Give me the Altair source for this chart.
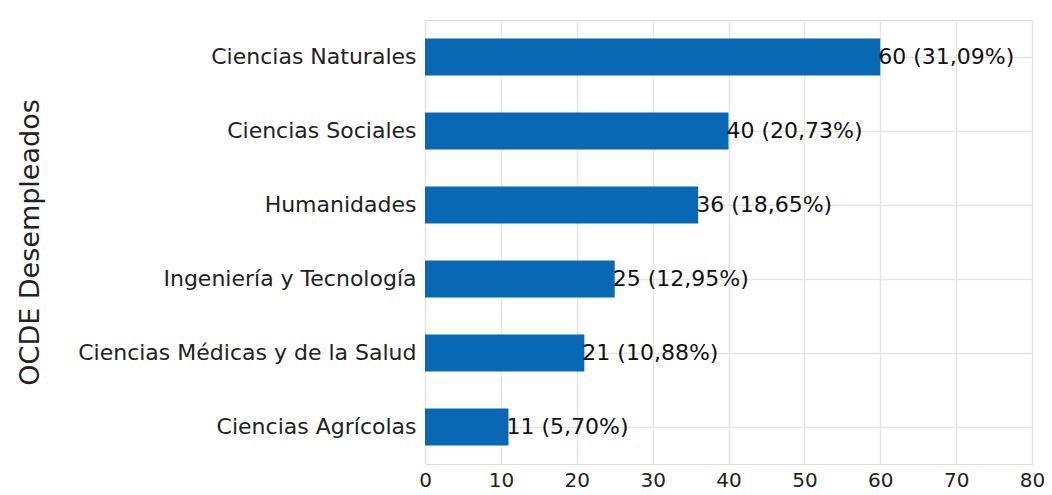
import altair as alt
import pandas as pd

categories = ["Ciencias Naturales", "Ciencias Sociales", "Humanidades",
              "Ingeniería y Tecnología", "Ciencias Médicas y de la Salud", "Ciencias Agrícolas"]
values = [60, 40, 36, 25, 21, 11]
percents = ["31,09%", "20,73%", "18,65%", "12,95%", "10,88%", "5,70%"]

df = pd.DataFrame({
    "cat": categories,
    "val": values,
    "label": [f"{v} ({p})" for v, p in zip(values, percents)],
})

y = alt.Y("cat:N", sort=categories, title="OCDE Desempleados",
          scale=alt.Scale(paddingInner=0.5, paddingOuter=0.25),
          axis=alt.Axis(labelFontSize=22, labelColor="#222", titleFontSize=27,
                        titleFontWeight="normal", titleColor="#222", ticks=False,
                        domain=False, labelPadding=9, labelLimit=420,
                        titleX=-395, titleY=222, titleAngle=270, titleAlign="center",
                        titleBaseline="middle",
                        grid=True, gridColor="#e6e6e6", gridWidth=1.5,
                        labelFont="DejaVu Sans", titleFont="DejaVu Sans"))
x = alt.X("val:Q", title=None, scale=alt.Scale(domain=[0, 80], nice=False),
          axis=alt.Axis(values=list(range(0, 81, 10)), labelFontSize=20, labelColor="#222",
                        labelFlush=False, labelOverlap=False,
                        ticks=False, domain=False, grid=True, gridColor="#e6e6e6",
                        gridWidth=1.5, labelPadding=6, labelFont="DejaVu Sans"))

bars = alt.Chart(df).mark_bar(color="#0868B4").encode(x=x, y=y)
text = alt.Chart(df).mark_text(align="left", baseline="middle", dx=-2, fontSize=22,
                               font="DejaVu Sans", color="#111").encode(
    x="val:Q", y=alt.Y("cat:N", sort=categories), text="label:N")

chart = (bars + text).properties(
    width=607, height=444,
    autosize=alt.AutoSizeParams(type="none"),
    padding={"left": 417, "top": 12, "right": 12, "bottom": 30},
).configure_view(stroke=None).configure(background="white")

chart.save("out.html", embed_options={"renderer": "svg", "actions": False})
